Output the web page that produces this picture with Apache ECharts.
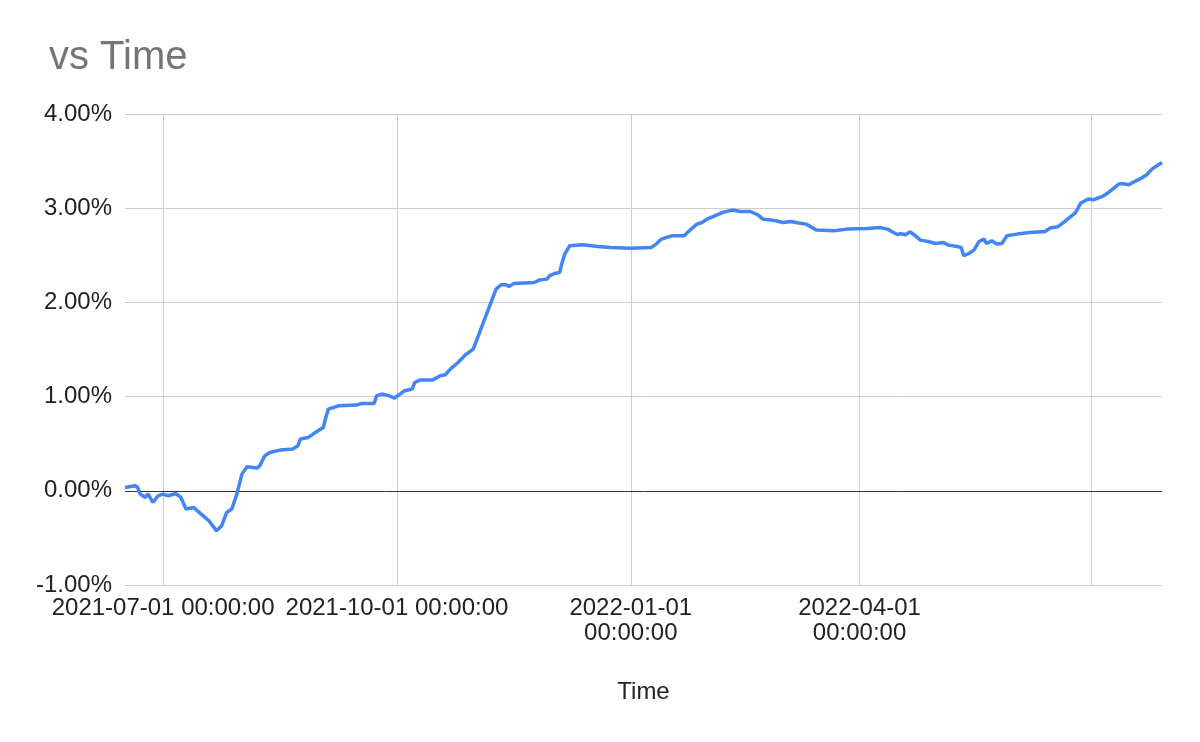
<!DOCTYPE html>
<html>
<head>
<meta charset="utf-8">
<script src="https://cdn.jsdelivr.net/npm/echarts@6/dist/echarts.min.js"></script>
<style>
  html, body { margin: 0; padding: 0; background: #fff; }
  #chart { width: 1200px; height: 742px; }
</style>
</head>
<body>
<div id="chart"></div>
<script>
const dates = [
  '2021-06-16','2021-06-20','2021-06-21','2021-06-22','2021-06-24','2021-06-25','2021-06-27','2021-06-29',
  '2021-07-01','2021-07-03','2021-07-06','2021-07-08','2021-07-10','2021-07-13','2021-07-16','2021-07-19',
  '2021-07-22','2021-07-24','2021-07-26','2021-07-28','2021-07-30','2021-08-01','2021-08-03','2021-08-07',
  '2021-08-08','2021-08-10','2021-08-12','2021-08-16','2021-08-21','2021-08-23','2021-08-24','2021-08-27',
  '2021-08-29','2021-08-31','2021-09-02','2021-09-03','2021-09-04','2021-09-08','2021-09-15','2021-09-17',
  '2021-09-22','2021-09-23','2021-09-25','2021-09-28','2021-09-30','2021-10-04','2021-10-07','2021-10-08',
  '2021-10-10','2021-10-15','2021-10-18','2021-10-20','2021-10-22','2021-10-25','2021-10-28','2021-10-31',
  '2021-11-02','2021-11-04','2021-11-06','2021-11-07','2021-11-09','2021-11-11','2021-11-13','2021-11-14',
  '2021-11-16','2021-11-24','2021-11-26','2021-11-29','2021-11-30','2021-12-02','2021-12-04','2021-12-05',
  '2021-12-06','2021-12-08','2021-12-13','2021-12-19','2021-12-24','2022-01-01','2022-01-09','2022-01-11',
  '2022-01-13','2022-01-17','2022-01-22','2022-01-24','2022-01-27','2022-01-29','2022-01-31','2022-02-03',
  '2022-02-06','2022-02-10','2022-02-13','2022-02-17','2022-02-20','2022-02-22','2022-02-25','2022-02-27',
  '2022-03-02','2022-03-05','2022-03-08','2022-03-11','2022-03-15','2022-03-22','2022-03-27','2022-04-04',
  '2022-04-09','2022-04-12','2022-04-16','2022-04-17','2022-04-19','2022-04-21','2022-04-23','2022-04-25',
  '2022-04-28','2022-05-01','2022-05-04','2022-05-06','2022-05-10','2022-05-11','2022-05-12','2022-05-14',
  '2022-05-16','2022-05-18','2022-05-20','2022-05-21','2022-05-23','2022-05-25','2022-05-27','2022-05-29',
  '2022-06-02','2022-06-07','2022-06-13','2022-06-15','2022-06-18','2022-06-21','2022-06-25','2022-06-27',
  '2022-06-30','2022-07-02','2022-07-06','2022-07-08','2022-07-12','2022-07-13','2022-07-16','2022-07-18',
  '2022-07-21','2022-07-23','2022-07-25','2022-07-29'
];
// values in percent
const values = [
  0.035, 0.053, 0.035, -0.035, -0.071, -0.032, -0.124, -0.053,
  -0.035, -0.053, -0.029, -0.071, -0.194, -0.177, -0.247, -0.318,
  -0.425, -0.372, -0.230, -0.194, -0.035, 0.177, 0.255, 0.241,
  0.265, 0.372, 0.407, 0.432, 0.443, 0.478, 0.549, 0.566,
  0.602, 0.637, 0.672, 0.778, 0.867, 0.902, 0.910, 0.927,
  0.927, 1.008, 1.027, 1.008, 0.984, 1.062, 1.080, 1.150,
  1.175, 1.175, 1.221, 1.231, 1.292, 1.362, 1.444, 1.504,
  1.645, 1.787, 1.929, 1.999, 2.141, 2.187, 2.187, 2.169,
  2.201, 2.211, 2.237, 2.247, 2.282, 2.307, 2.317, 2.424,
  2.513, 2.601, 2.611, 2.593, 2.583, 2.576, 2.583, 2.619,
  2.672, 2.707, 2.707, 2.760, 2.831, 2.848, 2.884, 2.919,
  2.954, 2.980, 2.965, 2.965, 2.930, 2.884, 2.874, 2.866,
  2.848, 2.859, 2.842, 2.831, 2.768, 2.760, 2.778, 2.784,
  2.795, 2.778, 2.718, 2.731, 2.718, 2.749, 2.707, 2.661,
  2.646, 2.625, 2.636, 2.608, 2.590, 2.583, 2.495, 2.519,
  2.555, 2.646, 2.672, 2.625, 2.654, 2.619, 2.625, 2.707,
  2.725, 2.742, 2.753, 2.789, 2.803, 2.866, 2.954, 3.054,
  3.097, 3.089, 3.132, 3.167, 3.256, 3.262, 3.248, 3.280,
  3.320, 3.355, 3.415, 3.485
];
const gridDates = ['2021-07-01', '2021-10-01', '2022-01-01', '2022-04-01', '2022-07-01'];
const labelDates = ['2021-07-01', '2021-10-01', '2022-01-01', '2022-04-01'];
const labelTexts = ['2021-07-01 00:00:00', '2021-10-01 00:00:00', '2022-01-01\n00:00:00', '2022-04-01\n00:00:00'];
const yTicks = [-1, 0, 1, 2, 3, 4];

const FONT = 'Arial, "Liberation Sans", sans-serif';
const DAY = 86400000;
const ts = s => { const p = s.split('-').map(Number); return Date.UTC(p[0], p[1] - 1, p[2]) / DAY; };
const seriesData = dates.map((d, i) => [ts(d), values[i]]);
const labelMap = {};
labelDates.forEach((d, i) => { labelMap[ts(d)] = labelTexts[i]; });

const chart = echarts.init(document.getElementById('chart'), null, { renderer: 'canvas' });
chart.setOption({
  backgroundColor: '#ffffff',
  animation: false,
  title: {
    text: 'vs Time',
    left: 44,
    top: 33,
    textStyle: { fontFamily: FONT, fontSize: 40, fontWeight: 'normal', color: '#757575' }
  },
  grid: { left: 125, right: 38, top: 114, bottom: 157, containLabel: false },
  xAxis: {
    type: 'value',
    min: ts(dates[0]),
    max: ts(dates[dates.length - 1]),
    name: 'Time',
    nameLocation: 'middle',
    nameGap: 95,
    nameTextStyle: { fontFamily: FONT, fontSize: 24, color: '#222222' },
    axisLine: { show: false },
    axisTick: { show: false, customValues: gridDates.map(ts) },
    splitLine: { show: true, lineStyle: { color: '#cccccc', width: 1 } },
    axisLabel: {
      customValues: labelDates.map(ts),
      formatter: v => labelMap[v] || '',
      fontFamily: FONT,
      fontSize: 24,
      lineHeight: 25,
      color: '#222222',
      margin: 11,
      hideOverlap: false,
      showMinLabel: true,
      showMaxLabel: true
    }
  },
  yAxis: {
    type: 'value',
    min: yTicks[0],
    max: yTicks[yTicks.length - 1],
    interval: 1,
    axisLine: { show: false },
    axisTick: { show: false },
    splitLine: { show: true, lineStyle: { color: '#cccccc', width: 1 } },
    axisLabel: {
      formatter: v => v.toFixed(2) + '%',
      fontFamily: FONT,
      fontSize: 24,
      color: '#222222',
      margin: 13
    }
  },
  series: [{
    type: 'line',
    data: seriesData,
    showSymbol: false,
    symbol: 'none',
    lineStyle: { color: '#4285f4', width: 3.5 },
    itemStyle: { color: '#4285f4' },
    markLine: {
      silent: true,
      symbol: 'none',
      label: { show: false },
      lineStyle: { color: '#333333', type: 'solid', width: 1 },
      data: [{ yAxis: 0 }],
      z: 1
    },
    z: 3
  }]
});
</script>
</body>
</html>
